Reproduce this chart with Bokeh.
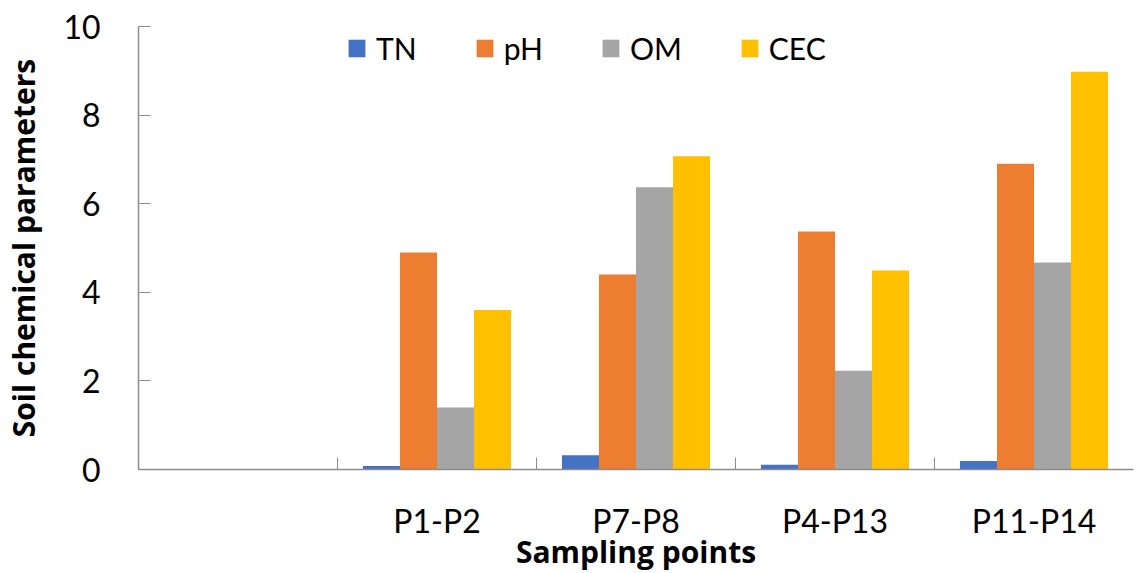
from bokeh.plotting import figure
from bokeh.models import ColumnDataSource, FixedTicker, Legend, LegendItem, Range1d
from bokeh.transform import dodge
from bokeh.embed import file_html
from bokeh.resources import INLINE

categories = ["", "P1-P2", "P7-P8", "P4-P13", "P11-P14"]
series = ["TN", "pH", "OM", "CEC"]
TN = [0, 0.08, 0.32, 0.11, 0.19]
pH = [0, 4.9, 4.4, 5.37, 6.9]
OM = [0, 1.4, 6.37, 2.23, 4.67]
CEC = [0, 3.6, 7.07, 4.49, 8.98]
colors = ["#4472C4", "#ED7D31", "#A5A5A5", "#FFC000"]

xs = list(range(1, len(categories) + 1))
src = ColumnDataSource(dict(x=xs, TN=TN, pH=pH, OM=OM, CEC=CEC))

FONT = "Lato"
TFONT = "Open Sans"
p = figure(frame_width=995, frame_height=443, output_backend="svg", toolbar_location=None,
           x_range=Range1d(0.5, len(categories) + 0.5), y_range=Range1d(0, 10),
           min_border_left=135, min_border_right=15, min_border_top=26, min_border_bottom=104)
p.outline_line_color = None
p.xgrid.visible = False
p.ygrid.visible = False
p.background_fill_color = "white"

bw = 0.186
renderers = []
for i, (s, c) in enumerate(zip(series, colors)):
    r = p.vbar(x=dodge("x", (i - 1.5) * bw, range=p.x_range), top=s, width=bw,
               source=src, color=c, line_color=None)
    renderers.append(r)

legend = Legend(items=[LegendItem(label=s, renderers=[r]) for s, r in zip(series, renderers)],
                orientation="horizontal", location=(208, 403),
                border_line_color=None, background_fill_alpha=0,
                label_text_font=FONT, label_text_font_size="30px", label_text_color="black",
                glyph_width=21, glyph_height=22, label_height=30, spacing=57, label_standoff=9,
                padding=0, margin=0)
p.add_layout(legend, "center")

# x axis
p.xaxis.ticker = FixedTicker(ticks=xs, minor_ticks=[x + 0.5 for x in xs[:-1]])
p.xaxis.major_label_overrides = {x: c for x, c in zip(xs, categories)}
p.xaxis.major_tick_line_color = None
p.xaxis.major_tick_in = 0
p.xaxis.major_tick_out = 0
p.xaxis.minor_tick_in = 12
p.xaxis.minor_tick_out = 0
p.xaxis.minor_tick_line_color = "#8c8c8c"
p.xaxis.axis_line_color = "#8c8c8c"
p.xaxis.axis_line_width = 1.5
p.xaxis.major_label_standoff = 31
p.xaxis.major_label_text_font = FONT
p.xaxis.major_label_text_font_size = "32px"
p.xaxis.major_label_text_color = "black"
p.xaxis.axis_label = "Sampling points"
p.xaxis.axis_label_text_font = TFONT
p.xaxis.axis_label_text_font_size = "30px"
p.xaxis.axis_label_text_font_style = "bold"
p.xaxis.axis_label_text_color = "black"
p.xaxis.axis_label_standoff = -12

# y axis
p.yaxis.ticker = FixedTicker(ticks=[0, 2, 4, 6, 8, 10])
p.yaxis.minor_tick_line_color = None
p.yaxis.major_tick_in = 12
p.yaxis.major_tick_out = 0
p.yaxis.major_tick_line_color = "#8c8c8c"
p.yaxis.axis_line_color = "#8c8c8c"
p.yaxis.axis_line_width = 1.5
p.yaxis.major_label_standoff = 38
p.yaxis.major_label_text_font = FONT
p.yaxis.major_label_text_font_size = "32px"
p.yaxis.major_label_text_color = "black"
p.yaxis.axis_label = "Soil chemical parameters"
p.yaxis.axis_label_text_font = TFONT
p.yaxis.axis_label_text_font_size = "30px"
p.yaxis.axis_label_text_font_style = "bold"
p.yaxis.axis_label_text_color = "black"
p.yaxis.axis_label_standoff = 16

open("out.html", "w").write(file_html(p, INLINE))
